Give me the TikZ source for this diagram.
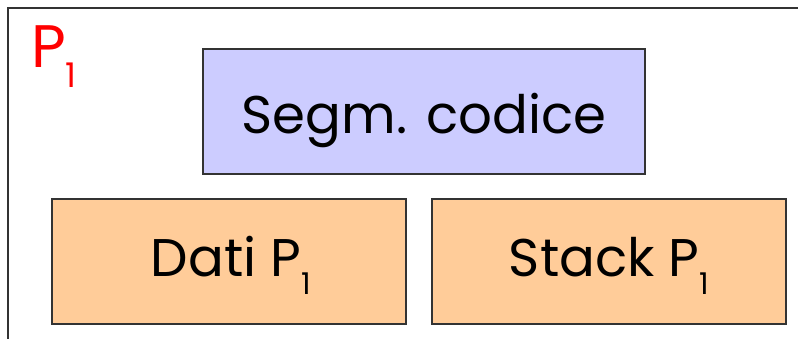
\documentclass[tikz,border=0pt]{standalone}
\usepackage{fontspec}
\setmainfont{Poppins}
\definecolor{codefill}{HTML}{CCCCFF}
\definecolor{datafill}{HTML}{FFCC99}
\definecolor{framecol}{HTML}{333333}
% subscript one: size, drop
\newcommand{\subone}[2]{\raisebox{-#2}{\fontsize{#1}{#1}\selectfont 1}}
\begin{document}
\begin{tikzpicture}[x=1pt,y=-1pt,
  segbox/.style={draw=framecol,line width=1.2pt,minimum width=#1,minimum height=125pt,inner sep=0pt},
  segbox/.default=442pt,
  segtext/.style={anchor=base,inner sep=0pt,font=\fontsize{53}{60}\selectfont}]
\useasboundingbox (0,0) rectangle (798,338);
% outer process frame, only its top and left sides fall inside
\draw[framecol,line width=1.3pt] (8,345) -- (8,8) -- (805,8);
\node[text=red,font=\fontsize{60}{70}\selectfont,anchor=base west,inner sep=0pt] (plabel) at (31,67) {P\subone{34}{20pt}};
\node[segbox=442pt,fill=codefill] (code) at (424,111.5) {};
\node[segbox=354pt,fill=datafill] (dati) at (229,261.5) {};
\node[segbox=354pt,fill=datafill] (stack) at (609,261.5) {};
\node[segtext] (codetext) at (424,133) {Segm. codice};
\node[segtext] (datitext) at (231,276) {Dati P\subone{30}{18pt}};
\node[segtext] (stacktext) at (609,276) {Stack P\subone{30}{18pt}};
\end{tikzpicture}
\end{document}
